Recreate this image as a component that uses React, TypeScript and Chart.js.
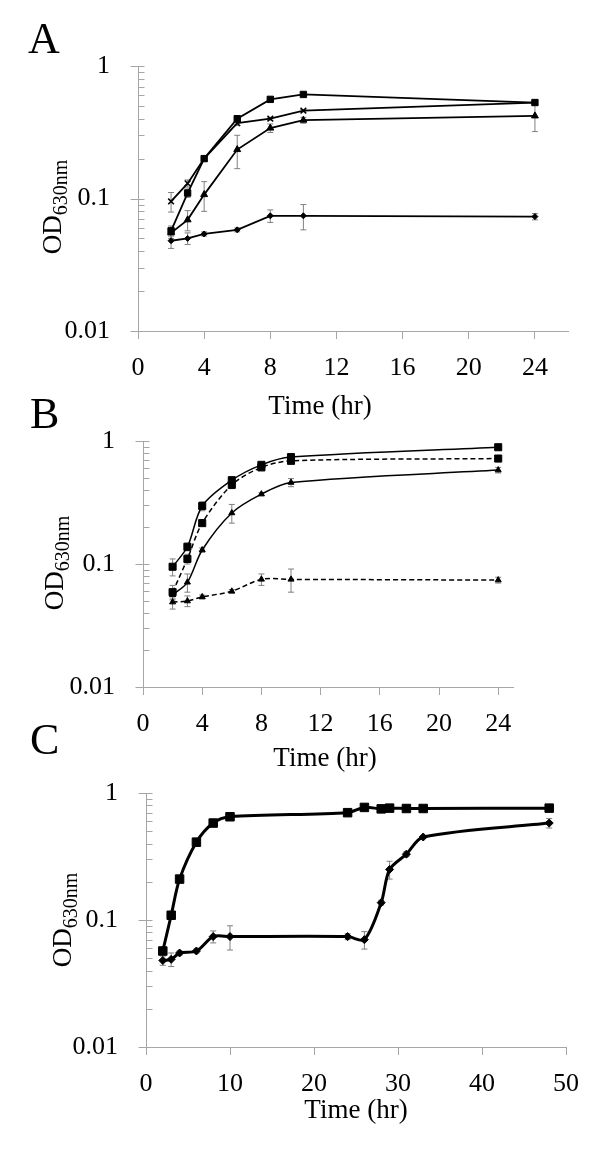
import React, { useEffect, useRef } from "react";
import { Chart, registerables } from "chart.js";
Chart.register(...registerables);

const SERIF = '"Liberation Serif", "Times New Roman", serif';
const AXIS = "#a6a6a6";
const ERR = "#808080";

// ---------- Panel A ----------
const timeA = [2, 3, 4, 6, 8, 10, 24];
const aSquare = [0.057, 0.11, 0.2, 0.4, 0.56, 0.61, 0.53];
const aSquareErr = [0.005, 0.008, 0.008, 0.02, 0.01, 0.01, 0.01];
const aCross = [0.095, 0.13, 0.2, 0.37, 0.4, 0.46, 0.53];
const aCrossErr = [0.016, 0.008, 0.008, 0.015, 0.01, 0.01, 0.01];
const aTriangle = [0.055, 0.069, 0.107, 0.234, 0.34, 0.39, 0.42];
const aTriangleErr = [0.005, 0.012, 0.027, 0.066, 0.025, 0.02, 0.1];
const aDiamond = [0.048, 0.05, 0.054, 0.058, 0.074, 0.074, 0.073];
const aDiamondErr = [0.006, 0.005, 0.002, 0.002, 0.008, 0.016, 0.004];
const xTicksA = [0, 4, 8, 12, 16, 20, 24];

// ---------- Panel B ----------
const timeB = [2, 3, 4, 6, 8, 10, 24];
const bSolidSquare = [0.095, 0.138, 0.296, 0.48, 0.64, 0.74, 0.89];
const bSolidSquareErr = [0.015, 0.01, 0.025, 0.03, 0.02, 0.03, 0.01];
const bDashedSquare = [0.059, 0.11, 0.215, 0.44, 0.61, 0.69, 0.72];
const bDashedSquareErr = [0.008, 0.01, 0.01, 0.03, 0.02, 0.03, 0.01];
const bSolidTriangle = [0.056, 0.071, 0.13, 0.26, 0.37, 0.46, 0.58];
const bSolidTriangleErr = [0.004, 0.012, 0.005, 0.045, 0.01, 0.035, 0.03];
const bDashedTriangle = [0.049, 0.05, 0.054, 0.06, 0.075, 0.075, 0.074];
const bDashedTriangleErr = [0.006, 0.005, 0.002, 0.002, 0.008, 0.016, 0.004];
const xTicksB = [0, 4, 8, 12, 16, 20, 24];

// ---------- Panel C ----------
const timeC = [2, 3, 4, 6, 8, 10, 24, 26, 28, 29, 31, 33, 48];
const cSquare = [0.057, 0.109, 0.21, 0.41, 0.58, 0.65, 0.7, 0.77, 0.75, 0.76, 0.755, 0.755, 0.76];
const cSquareErr = [0.004, 0.006, 0.01, 0.03, 0.02, 0.02, 0.02, 0.02, 0.02, 0.02, 0.02, 0.02, 0.02];
const cDiamond = [0.048, 0.049, 0.055, 0.057, 0.074, 0.074, 0.074, 0.07, 0.137, 0.25, 0.33, 0.45, 0.58];
const cDiamondErr = [0.004, 0.006, 0.002, 0.002, 0.008, 0.016, 0.004, 0.011, 0.006, 0.04, 0.015, 0.01, 0.05];
const xTicksC = [0, 10, 20, 30, 40, 50];

// ---------- Y axis ----------
const yMajorValues = [0.01, 0.1, 1];
const yMajorLabels = ["0.01", "0.1", "1"];
const yMinorMultipliers = [2, 3, 4, 5, 6, 7, 8, 9];

const yTickValues: number[] = [];
[0.01, 0.1].forEach((d) => {
  yTickValues.push(d);
  yMinorMultipliers.forEach((m) => yTickValues.push(m * d));
});
yTickValues.push(1);

const isMajor = (v: number) => yMajorValues.some((m) => Math.abs(m - v) < 1e-9);
const majorLabel = (v: number) => {
  const i = yMajorValues.findIndex((m) => Math.abs(m - v) < 1e-9);
  return i >= 0 ? yMajorLabels[i] : "";
};

const pts = (xs: number[], ys: number[]) => xs.map((x, i) => ({ x, y: ys[i] }));

const errorBarPlugin = {
  id: "errorBars",
  beforeDatasetsDraw(chart: any) {
    const ctx = chart.ctx;
    const ys = chart.scales.y;
    chart.data.datasets.forEach((ds: any, i: number) => {
      const errs = ds.errors;
      if (!errs) return;
      const meta = chart.getDatasetMeta(i);
      ctx.save();
      ctx.strokeStyle = ERR;
      ctx.lineWidth = 1;
      meta.data.forEach((pt: any, j: number) => {
        const e = errs[j];
        if (!e) return;
        const v = ds.data[j].y;
        const top = ys.getPixelForValue(v + e);
        const bot = ys.getPixelForValue(Math.max(v - e, 0.0001));
        const x = pt.x;
        ctx.beginPath();
        ctx.moveTo(x, top);
        ctx.lineTo(x, bot);
        ctx.moveTo(x - 3, top);
        ctx.lineTo(x + 3, top);
        ctx.moveTo(x - 3, bot);
        ctx.lineTo(x + 3, bot);
        ctx.stroke();
      });
      ctx.restore();
    });
  },
};

const panelTextPlugin = {
  id: "panelText",
  afterDraw(chart: any, _args: any, o: any) {
    const ctx = chart.ctx;
    const ys = chart.scales.y;
    ctx.save();
    // y tick marks
    ctx.strokeStyle = AXIS;
    ctx.lineWidth = 1;
    const x0 = Math.round(ys.right) + 0.5;
    ctx.beginPath();
    ys.ticks.forEach((t: any) => {
      const p = Math.round(ys.getPixelForValue(t.value)) + 0.5;
      ctx.moveTo(isMajor(t.value) ? x0 - 8 : x0, p);
      ctx.lineTo(x0 + 6, p);
    });
    ctx.stroke();

    ctx.fillStyle = "#000";
    ctx.textBaseline = "alphabetic";
    // panel letter
    ctx.textAlign = "left";
    ctx.font = `44px ${SERIF}`;
    ctx.fillText(o.letter, o.letterX, o.letterY);
    // x title
    ctx.textAlign = "center";
    ctx.font = `27px ${SERIF}`;
    ctx.fillText(o.xTitle, o.xTitleX, o.xTitleY);
    // y title with subscript
    ctx.translate(o.yTitleX, o.yTitleY);
    ctx.rotate(-Math.PI / 2);
    ctx.textAlign = "left";
    ctx.font = `27px ${SERIF}`;
    const wMain = ctx.measureText(o.yMain).width;
    ctx.font = `20px ${SERIF}`;
    const wSub = ctx.measureText(o.ySub).width;
    const start = -(wMain + wSub) / 2;
    ctx.font = `27px ${SERIF}`;
    ctx.fillText(o.yMain, start, 0);
    ctx.font = `20px ${SERIF}`;
    ctx.fillText(o.ySub, start + wMain, 6);
    ctx.restore();
  },
};

type PanelCfg = {
  canvasH: number;
  area: { left: number; right: number; top: number; bottom: number };
  xMax: number;
  xTicks: number[];
  datasets: any[];
  text: any;
};

function buildConfig(p: PanelCfg): any {
  return {
    type: "line",
    data: { datasets: p.datasets },
    plugins: [errorBarPlugin, panelTextPlugin],
    options: {
      animation: false,
      responsive: false,
      devicePixelRatio: 1,
      layout: {
        padding: { left: 0, top: p.area.top, right: 600 - p.area.right, bottom: 0 },
      },
      plugins: {
        legend: { display: false },
        tooltip: { enabled: false },
        panelText: p.text,
      },
      scales: {
        x: {
          type: "linear",
          min: 0,
          max: p.xMax,
          afterBuildTicks: (s: any) => {
            s.ticks = p.xTicks.map((v) => ({ value: v }));
          },
          afterFit: (s: any) => {
            s.height = p.canvasH - p.area.bottom;
          },
          ticks: {
            autoSkip: false,
            maxRotation: 0,
            padding: 14,
            color: "#000",
            font: { family: SERIF, size: 26 },
            callback: (v: any) => String(v),
          },
          grid: {
            display: true,
            drawOnChartArea: false,
            drawTicks: true,
            tickLength: 8,
            color: AXIS,
          },
          border: { display: true, color: AXIS, width: 1 },
        },
        y: {
          type: "logarithmic",
          min: 0.01,
          max: 1,
          afterBuildTicks: (s: any) => {
            s.ticks = yTickValues.map((v) => ({ value: v, major: isMajor(v) }));
          },
          afterFit: (s: any) => {
            s.width = p.area.left;
          },
          ticks: {
            autoSkip: false,
            padding: 28,
            color: "#000",
            font: { family: SERIF, size: 26 },
            callback: (v: any) => majorLabel(Number(v)),
          },
          grid: { display: false, drawTicks: false },
          border: { display: true, color: AXIS, width: 1 },
        },
      },
    },
  };
}

const ds = (
  xs: number[],
  ys: number[],
  errs: number[],
  style: string,
  radius: number,
  opts: any = {}
) => ({
  data: pts(xs, ys),
  errors: errs,
  borderColor: "#000",
  backgroundColor: "#000",
  pointBackgroundColor: "#000",
  pointBorderColor: "#000",
  pointStyle: style,
  pointRadius: radius,
  pointBorderWidth: 1,
  borderWidth: 1.8,
  tension: 0,
  ...opts,
});

const panelA: PanelCfg = {
  canvasH: 440,
  area: { left: 138, right: 568, top: 66, bottom: 331 },
  xMax: 26,
  xTicks: xTicksA,
  datasets: [
    ds(timeA, aDiamond, aDiamondErr, "rectRot", 3),
    ds(timeA, aTriangle, aTriangleErr, "triangle", 4),
    ds(timeA, aCross, aCrossErr, "crossRot", 4, { pointBorderWidth: 1.5 }),
    ds(timeA, aSquare, aSquareErr, "rect", 4.5),
  ],
  text: {
    letter: "A", letterX: 28, letterY: 53,
    xTitle: "Time (hr)", xTitleX: 320, xTitleY: 414,
    yMain: "OD", ySub: "630nm", yTitleX: 61, yTitleY: 207,
  },
};

const dash = [5, 3];
const panelB: PanelCfg = {
  canvasH: 400,
  area: { left: 143, right: 513, top: 61, bottom: 307 },
  xMax: 25,
  xTicks: xTicksB,
  datasets: [
    ds(timeB, bDashedTriangle, bDashedTriangleErr, "triangle", 3.5, { borderDash: dash, tension: 0.3, borderWidth: 1.5 }),
    ds(timeB, bSolidTriangle, bSolidTriangleErr, "triangle", 3.5, { tension: 0.3, borderWidth: 1.5 }),
    ds(timeB, bDashedSquare, bDashedSquareErr, "rect", 5, { borderDash: dash, tension: 0.3, borderWidth: 1.5 }),
    ds(timeB, bSolidSquare, bSolidSquareErr, "rect", 5, { tension: 0.3, borderWidth: 1.5 }),
  ],
  text: {
    letter: "B", letterX: 30, letterY: 48,
    xTitle: "Time (hr)", xTitleX: 325, xTitleY: 386,
    yMain: "OD", ySub: "630nm", yTitleX: 63, yTitleY: 183,
  },
};

const panelC: PanelCfg = {
  canvasH: 451,
  area: { left: 146, right: 566, top: 93, bottom: 347 },
  xMax: 50,
  xTicks: xTicksC,
  datasets: [
    ds(timeC, cDiamond, cDiamondErr, "rectRot", 4, { tension: 0.3, borderWidth: 3 }),
    ds(timeC, cSquare, cSquareErr, "rect", 6, { tension: 0.3, borderWidth: 3 }),
  ],
  text: {
    letter: "C", letterX: 30, letterY: 54,
    xTitle: "Time (hr)", xTitleX: 356, xTitleY: 418,
    yMain: "OD", ySub: "630nm", yTitleX: 71, yTitleY: 220,
  },
};

function Panel({ top, cfg }: { top: number; cfg: PanelCfg }) {
  const ref = useRef<HTMLCanvasElement | null>(null);
  useEffect(() => {
    if (!ref.current) return;
    const chart = new Chart(ref.current, buildConfig(cfg));
    return () => chart.destroy();
  }, [cfg]);
  return (
    <canvas
      ref={ref}
      width={600}
      height={cfg.canvasH}
      style={{ position: "absolute", left: 0, top, width: 600, height: cfg.canvasH }}
    />
  );
}

export default function App() {
  return (
    <div
      style={{
        position: "absolute",
        left: 0,
        top: 0,
        width: 600,
        height: 1151,
        background: "#fff",
        overflow: "hidden",
      }}
    >
      <Panel top={0} cfg={panelA} />
      <Panel top={380} cfg={panelB} />
      <Panel top={700} cfg={panelC} />
    </div>
  );
}
